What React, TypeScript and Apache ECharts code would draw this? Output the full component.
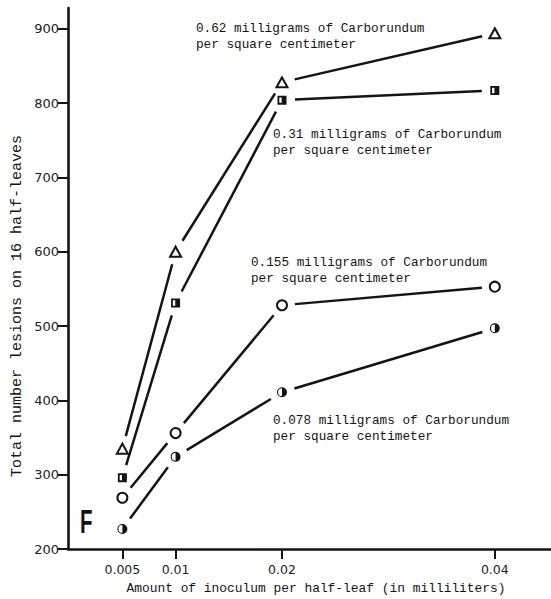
import React, { useEffect, useRef } from "react";
import * as echarts from "echarts";

const doses = [0.005, 0.01, 0.02, 0.04];
const xTickLabels = ["0.005", "0.01", "0.02", "0.04"];
const yTicks = [200, 300, 400, 500, 600, 700, 800, 900];
const carb062 = [335, 600, 828, 894];
const carb031 = [296, 531, 804, 817];
const carb0155 = [269, 356, 528, 553];
const carb0078 = [227, 324, 411, 497];
const seriesNames = ["0.62 mg/cm²", "0.31 mg/cm²", "0.155 mg/cm²", "0.078 mg/cm²"];
const annotationLines = [
  ["0.62 milligrams of Carborundum", "per square centimeter"],
  ["0.31 milligrams of Carborundum", "per square centimeter"],
  ["0.155 milligrams of Carborundum", "per square centimeter"],
  ["0.078 milligrams of Carborundum", "per square centimeter"],
];
const panelLetter = "F";
const xTitle = "Amount of inoculum per half-leaf (in milliliters)";
const yTitle = "Total number lesions on 16 half-leaves";

const INK = "#141414";
const MONO = "'Liberation Mono', 'DejaVu Sans Mono', monospace";

const HALF_SQUARE = "path://M0,0 H10 V10 H0 Z M2,2 V8 H4.6 V2 Z";
const HALF_CIRCLE =
  "path://M10,0 A10,10 0 1,1 10,20 A10,10 0 1,1 10,0 Z M10,2.2 A7.8,7.8 0 1,0 10,17.8 A7.8,7.8 0 1,0 10,2.2 Z M10,2.2 A7.8,7.8 0 0,1 10,17.8 Z";

export default function App() {
  const ref = useRef<HTMLDivElement>(null);
  useEffect(() => {
    if (!ref.current) return;
    const chart = echarts.init(ref.current, null, { renderer: "svg" });
    const allSeries = [carb062, carb031, carb0155, carb0078];
    const pairs = (vals: number[]) => doses.map((d, i) => [d, vals[i]]);

    const markerDefs = [
      { symbol: "emptyTriangle", size: [11, 10], borderWidth: 1.3 },
      { symbol: HALF_SQUARE, size: 9, borderWidth: 0 },
      { symbol: "emptyCircle", size: 10, borderWidth: 1.3 },
      { symbol: HALF_CIRCLE, size: 10, borderWidth: 0 },
    ];

    const GAP = 13;
    const segmentSeries = allSeries.map((vals, i) => {
      const segs: number[][] = [];
      for (let k = 0; k < doses.length - 1; k++) {
        segs.push([doses[k], vals[k], doses[k + 1], vals[k + 1]]);
      }
      return {
        type: "custom",
        name: seriesNames[i],
        data: segs,
        dimensions: ["x0", "y0", "x1", "y1"],
        encode: { x: [0, 2], y: [1, 3] },
        silent: true,
        z: 2,
        renderItem: (params: any, api: any) => {
          const p0 = api.coord([api.value(0), api.value(1)]);
          const p1 = api.coord([api.value(2), api.value(3)]);
          const dx = p1[0] - p0[0];
          const dy = p1[1] - p0[1];
          const len = Math.sqrt(dx * dx + dy * dy) || 1;
          const ux = dx / len;
          const uy = dy / len;
          return {
            type: "line",
            shape: {
              x1: p0[0] + ux * GAP,
              y1: p0[1] + uy * GAP,
              x2: p1[0] - ux * GAP,
              y2: p1[1] - uy * GAP,
            },
            style: { stroke: INK, lineWidth: 2.5, fill: null },
          };
        },
      };
    });

    const markerSeries = allSeries.map((vals, i) => ({
      type: "scatter",
      name: seriesNames[i] + " markers",
      data: pairs(vals),
      symbol: markerDefs[i].symbol,
      symbolSize: markerDefs[i].size,
      silent: true,
      itemStyle: {
        color: INK,
        borderColor: INK,
        borderWidth: markerDefs[i].borderWidth,
        opacity: 1,
      },
      emphasis: { disabled: true },
      z: 20,
    }));

    const annotPos = [
      [196, 28],
      [273, 134],
      [251, 262],
      [273, 420],
    ];
    const graphics: any[] = [];
    annotationLines.forEach((lines, i) => {
      lines.forEach((t, j) => {
        graphics.push({
          type: "text",
          x: annotPos[i][0],
          y: annotPos[i][1] + j * 16,
          style: {
            text: t,
            fontFamily: MONO,
            fontSize: 12.7,
            fill: INK,
            align: "left",
            verticalAlign: "middle",
          },
        });
      });
    });
    graphics.push({
      type: "text",
      x: 80,
      y: 538,
      scaleX: 0.62,
      style: {
        text: panelLetter,
        fontFamily: "'Liberation Sans', Arial, sans-serif",
        fontWeight: "bold",
        fontSize: 33,
        fill: INK,
        align: "left",
        verticalAlign: "bottom",
      },
    });
    graphics.push({
      type: "text",
      x: 316,
      y: 588,
      style: {
        text: xTitle,
        fontFamily: MONO,
        fontSize: 12.9,
        fill: INK,
        align: "center",
        verticalAlign: "middle",
      },
    });
    graphics.push({
      type: "text",
      x: 17,
      y: 306,
      rotation: Math.PI / 2,
      style: {
        text: yTitle,
        fontFamily: MONO,
        fontSize: 15,
        fill: INK,
        align: "center",
        verticalAlign: "middle",
      },
    });

    chart.setOption({
      animation: false,
      backgroundColor: "#ffffff",
      grid: { left: 68, right: 0, top: 8, bottom: 50 },
      xAxis: {
        type: "value",
        min: -0.00011,
        max: 0.04528,
        splitLine: { show: false },
        axisLine: { show: true, onZero: false, lineStyle: { color: INK, width: 2.6 } },
        axisTick: {
          show: true,
          customValues: doses,
          length: 10,
          lineStyle: { color: INK, width: 2 },
        },
        axisLabel: {
          customValues: doses,
          margin: 14,
          color: "#222",
          fontFamily: "'DejaVu Sans', sans-serif",
          fontSize: 12.5,
          formatter: (v: number) => {
            const idx = doses.findIndex((d) => Math.abs(d - v) < 1e-9);
            return idx >= 0 ? xTickLabels[idx] : "";
          },
        },
      },
      yAxis: {
        type: "value",
        min: 200,
        max: 928,
        splitLine: { show: false },
        axisLine: { show: true, onZero: false, lineStyle: { color: INK, width: 2.6 } },
        axisTick: {
          show: true,
          customValues: yTicks,
          length: 10,
          lineStyle: { color: INK, width: 2 },
        },
        axisLabel: {
          customValues: yTicks,
          margin: 9,
          color: "#222",
          fontFamily: "'DejaVu Sans', sans-serif",
          fontSize: 13,
        },
      },
      series: [...segmentSeries, ...markerSeries],
      graphic: graphics,
    });
    return () => chart.dispose();
  }, []);
  return (
    <div
      ref={ref}
      style={{ position: "fixed", left: 0, top: 0, width: 551, height: 599, background: "#fff" }}
    />
  );
}
